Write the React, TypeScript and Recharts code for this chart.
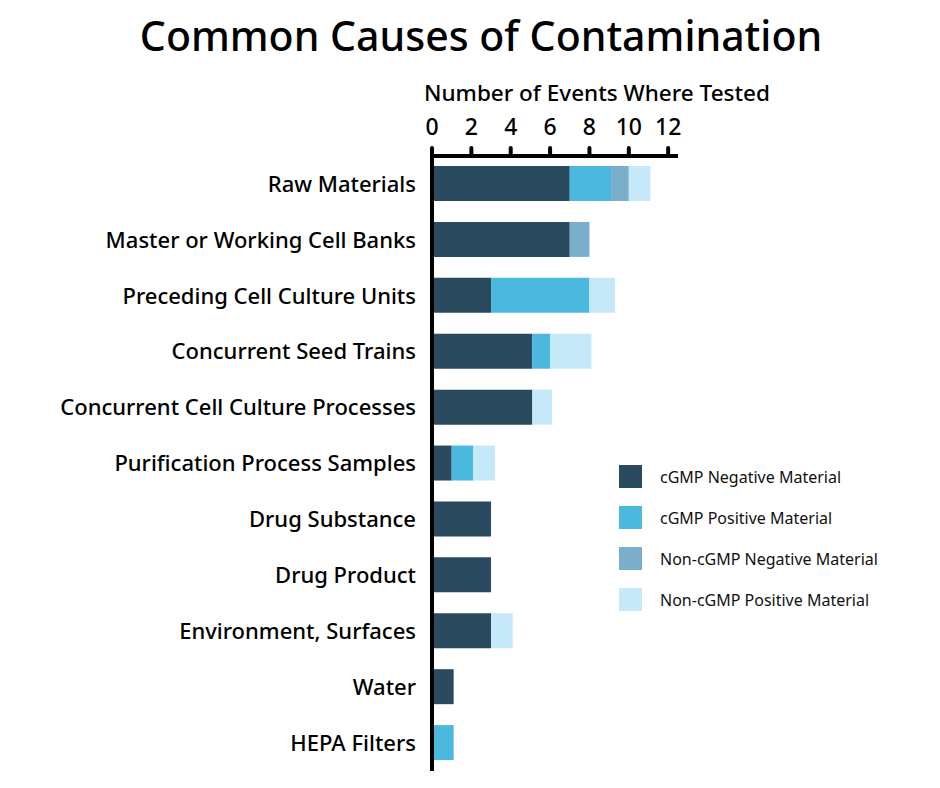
import React from 'react';
import { BarChart, Bar, XAxis, YAxis } from 'recharts';

const categories = [
    'Raw Materials',
    'Master or Working Cell Banks',
    'Preceding Cell Culture Units',
    'Concurrent Seed Trains',
    'Concurrent Cell Culture Processes',
    'Purification Process Samples',
    'Drug Substance',
    'Drug Product',
    'Environment, Surfaces',
    'Water',
    'HEPA Filters',
];

const cgmpNegative = [7, 7, 3, 5.1, 5.1, 1, 3, 3, 3, 1.1, 0];
const cgmpPositive = [2.1, 0, 5, 0.9, 0, 1.1, 0, 0, 0, 0, 1.1];
const nonCgmpNegative = [0.9, 1, 0, 0, 0, 0, 0, 0, 0, 0, 0];
const nonCgmpPositive = [1.1, 0, 1.3, 2.1, 1, 1.1, 0, 0, 1.1, 0, 0];

const xTicks = [0, 2, 4, 6, 8, 10, 12];

const FONT = '"Noto Sans", Lato, sans-serif';

const series = [
    { key: 'neg', name: 'cGMP Negative Material', color: '#2a4a60' },
    { key: 'pos', name: 'cGMP Positive Material', color: '#4bb9de' },
    { key: 'nneg', name: 'Non-cGMP Negative Material', color: '#7aaeca' },
    { key: 'npos', name: 'Non-cGMP Positive Material', color: '#c6e9f9' },
];

const data = categories.map((name, i) => ({
    name,
    neg: cgmpNegative[i],
    pos: cgmpPositive[i],
    nneg: nonCgmpNegative[i],
    npos: nonCgmpPositive[i],
}));

const App = () => {
    return (
        <div style={{ position: 'absolute', left: 0, top: 0, width: 940, height: 788, background: '#fff', fontFamily: FONT }}>
            <div style={{ position: 'absolute', left: 11, top: 8, width: 940, textAlign: 'center', fontSize: 41, fontWeight: 500, lineHeight: '54px', color: '#000' }}>
                Common Causes of Contamination
            </div>
            <div style={{ position: 'absolute', left: 424, top: 78, fontSize: 22.5, fontWeight: 500, lineHeight: '30px', color: '#000' }}>
                Number of Events Where Tested
            </div>
            <div style={{ position: 'absolute', left: 619, top: 456 }}>
                {series.map(s => (
                    <div key={s.key} style={{ display: 'flex', alignItems: 'center', height: 41 }}>
                        <div style={{ width: 23, height: 23, background: s.color, marginRight: 18 }} />
                        <span style={{ fontSize: 16, color: '#111' }}>{s.name}</span>
                    </div>
                ))}
            </div>
            <BarChart width={940} height={788} layout="vertical" data={data} barSize={35}
                margin={{ top: 81, right: 262, bottom: 17, left: 0 }}>
                <XAxis type="number" orientation="top" domain={[0, 12.5]} ticks={xTicks} height={75}
                    axisLine={{ stroke: '#000', strokeWidth: 4 }}
                    tickLine={{ stroke: '#000', strokeWidth: 4, strokeLinecap: 'round' }}
                    tickSize={8} tickMargin={13}
                    tick={{ fontSize: 23, fill: '#000', fontFamily: FONT, fontWeight: 500 }} />
                <YAxis type="category" dataKey="name" width={432} interval={0}
                    axisLine={{ stroke: '#000', strokeWidth: 4 }} tickLine={false} tickMargin={10}
                    tick={{ fontSize: 22, fill: '#000', fontFamily: FONT, fontWeight: 500 }} />
                {series.map(s => (
                    <Bar key={s.key} dataKey={s.key} name={s.name} stackId="a" fill={s.color} isAnimationActive={false} />
                ))}
            </BarChart>
        </div>
    );
}

export default App;
